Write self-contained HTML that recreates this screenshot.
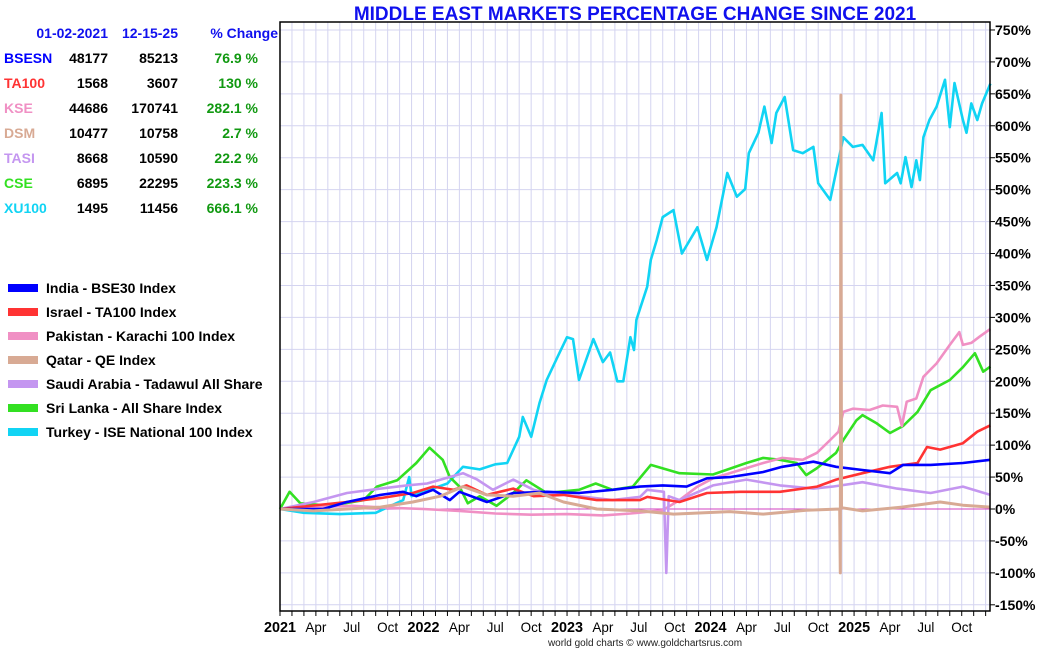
<!DOCTYPE html>
<html><head><meta charset="utf-8">
<style>
body{margin:0;background:#fff;width:1050px;height:650px;overflow:hidden;font-family:"Liberation Sans",sans-serif}
svg text{font-family:"Liberation Sans",sans-serif}
</style></head>
<body>
<svg id="chart" width="1050" height="650" xmlns="http://www.w3.org/2000/svg">
<text x="635" y="20" text-anchor="middle" font-size="19" font-weight="bold" fill="#1010ee">MIDDLE EAST MARKETS PERCENTAGE CHANGE SINCE 2021</text>
<g id="grid"></g>
<g id="series"></g>
<rect x="280" y="22" width="710" height="589" fill="none" stroke="#000" stroke-width="1.5"/>
<g id="axes"></g>
<g id="table"></g>
<g id="legend"></g>
<text x="645" y="646" text-anchor="middle" font-size="10" fill="#222">world gold charts © www.goldchartsrus.com</text>
</svg>
<script>
const yTicks=[750,700,650,600,550,500,450,400,350,300,250,200,150,100,50,0,-50,-100,-150];
const xLabels=["2021","Apr","Jul","Oct","2022","Apr","Jul","Oct","2023","Apr","Jul","Oct","2024","Apr","Jul","Oct","2025","Apr","Jul","Oct"];
const tableNames=["BSESN","TA100","KSE","DSM","TASI","CSE","XU100"];
const tableStart=["48177","1568","44686","10477","8668","6895","1495"];
const tableEnd=["85213","3607","170741","10758","10590","22295","11456"];
const tableChange=["76.9 %","130 %","282.1 %","2.7 %","22.2 %","223.3 %","666.1 %"];
const legendNames=["India - BSE30 Index","Israel - TA100 Index","Pakistan - Karachi 100 Index","Qatar - QE Index","Saudi Arabia - Tadawul All Share","Sri Lanka - All Share Index","Turkey - ISE National 100 Index"];
const colors=["#0000ff","#ff3333","#f090c4","#d8aa94","#c496f0","#33e022","#11d4f4"];
// months since Jan 2021 and % change values
const tkM=[0,2,5,8,10.3,10.8,11,12.5,14,15.3,16.7,18,19,20,20.3,21,21.7,22.3,23.2,24,24.5,25,26.2,27,27.6,28.2,28.7,29.3,29.6,29.8,30.7,31,31.5,32,32.9,33.6,34.9,35.7,36.5,37.4,38.2,38.9,39.2,40,40.5,41.1,41.5,42.2,42.9,43.7,44.6,45,46,46.7,47.1,47.9,48.7,49.6,50.3,50.6,51.6,51.9,52.3,52.8,53.2,53.5,53.8,54.3,54.9,55.6,56,56.4,57.1,57.4,57.8,58.3,58.7,59.4];
const tkV=[0,-6,-8,-6,14,50,20,30,40,66,62,70,72,113,144,113,166,202,238,269,266,202,266,230,245,200,200,269,249,296,348,390,421,457,468,400,441,390,441,526,489,501,557,589,630,573,620,645,562,557,567,510,484,546,582,567,570,546,620,510,526,510,551,504,546,515,582,609,630,672,598,667,609,589,635,609,635,666];
const lkM=[0,0.8,1.7,4.2,7,8.1,9.8,11.4,12.5,13.6,14.2,15,15.7,16.7,18.1,19.5,20.6,22.3,25,26.4,27.8,29.5,31,33.4,36.2,39,40.4,41.8,43.2,44,44.9,46.5,47.1,48.2,48.7,49.9,51,52.1,53.3,54.4,56,57.1,58.1,58.8,59.4];
const lkV=[0,27,9,5,14,35,45,72,96,77,50,35,9,20,5,25,45,25,30,40,30,35,69,56,54,72,80,77,72,53,64,88,108,139,147,134,119,130,152,186,202,222,244,215,223];
const pkM=[0,3,6,9,12,15,18,21,24,27,29.3,32,33.4,34.9,36.2,37.6,39,40.4,42,43.7,44.9,46,46.7,47.1,47.9,49.3,50.4,51.6,52,52.4,53.2,53.8,54.9,56,56.8,57.1,57.8,58.5,59.4];
const pkV=[0,3,5,2,0,-3,-7,-9,-8,-10,-7,-2,14,35,48,56,64,72,80,77,88,108,121,152,157,155,162,160,130,168,173,207,228,257,277,257,260,270,282];
const inM=[0,3.6,5.6,8.4,10.3,11.4,12.8,14.2,15,17.3,19.5,22.3,25,27.8,30.1,32,34,35.7,37.6,40.4,42,44.6,46.5,48.7,51,52.1,54.4,57.1,59.4];
const inV=[0,0,11,22,27,20,30,14,27,11,25,27,25,30,35,37,35,48,50,58,66,74,66,61,56,69,69,72,77];
const ilM=[0,5.6,8.4,11.1,12.8,14.5,15.6,17.3,19.5,21.2,23.7,26.5,30.1,30.7,33.4,35.7,38.5,41.8,44.9,46.5,48.7,51,53.3,54.1,55.2,57.1,58.3,59.4];
const ilV=[0,11,17,25,35,30,37,22,32,20,22,14,14,19,11,25,27,27,35,46,56,66,72,97,93,103,121,131];
const saM=[0,2.8,5.6,8.4,10.6,12.3,15.3,16.5,17.8,19.5,21.2,22.3,25,27.8,30.1,30.7,32.1,32.3,32.5,33.4,36.2,39,41.8,44.6,46.2,48.7,51.6,54.4,57.1,59.4];
const saV=[0,11,25,32,37,40,56,46,30,46,30,25,20,14,19,30,27,-100,20,14,37,46,37,32,35,42,32,25,35,22];
const qaM=[0,2.8,8.4,11.1,13.4,15.3,17.3,19.5,21.7,23.7,26.5,30.1,32.9,37.6,40.4,44,46.8,46.85,46.9,46.95,48.7,52,55.2,57.1,59.4];
const qaV=[0,-3,3,11,20,35,22,20,25,11,0,-3,-8,-4,-8,-2,0,-100,648,2,-3,3,11,6,3];
const seriesM=[inM,ilM,pkM,qaM,saM,lkM,tkM];
const seriesV=[inV,ilV,pkV,qaV,saV,lkV,tkV];
const seriesNames=["india-bse30-line","israel-ta100-line","pakistan-kse-line","qatar-qe-line","saudi-tasi-line","srilanka-cse-line","turkey-xu100-line"];

const NS="http://www.w3.org/2000/svg";
const L=280,R=990,T=22,B=611;
function xs(m){return L+m*11.96;}
function ys(v){return 509-v*0.6387;}
function mk(tag,attrs,parent){const e=document.createElementNS(NS,tag);for(const k in attrs)e.setAttribute(k,attrs[k]);parent.appendChild(e);return e;}
const grid=document.getElementById('grid'),axes=document.getElementById('axes');
for(let m=1;m<60;m++){const g=mk('line',{x1:xs(m),x2:xs(m),y1:T,y2:B,stroke:'#d4d4f0','stroke-width':1},grid);

}
for(const v of yTicks){const g=mk('line',{x1:L,x2:R,y1:ys(v),y2:ys(v),stroke:'#d4d4f0','stroke-width':1},grid);


const tk=mk('line',{x1:R,x2:R+5,y1:ys(v),y2:ys(v),stroke:'#000'},axes);


const t=mk('text',{x:R+5,y:ys(v)+5,'font-size':14,'font-weight':'bold',fill:'#000'},axes);t.textContent=v+'%';

}
const zl=mk('line',{x1:L,x2:R,y1:ys(0),y2:ys(0),stroke:'#d040c0','stroke-width':1},grid);


for(let m=0;m<60;m++){const tk=mk('line',{x1:xs(m),x2:xs(m),y1:B,y2:B+5,stroke:'#000'},axes);

}
xLabels.forEach((s,i)=>{const yr=i%4===0;
const t=mk('text',{x:xs(i*3),y:632,'text-anchor':'middle','font-size':yr?15:14,'font-weight':yr?'bold':'normal',fill:'#000',textLength:yr?32:(s==='Jul'?17:21),lengthAdjust:'spacingAndGlyphs'},axes);t.textContent=s;

});
const sg=document.getElementById('series');
const order=[6,5,2,4,1,0,3];
order.forEach(i=>{const pts=seriesM[i].map((m,j)=>xs(m).toFixed(1)+','+ys(seriesV[i][j]).toFixed(1)).join(' ');
const p=mk('polyline',{points:pts,fill:'none',stroke:colors[i],'stroke-width':i===3?3:2.6,'stroke-linejoin':'round'},sg);

});
const tb=document.getElementById('table');
[['01-02-2021',108],['12-15-25',178],['% Change',278]].forEach(([s,x])=>{const t=mk('text',{x:x,y:38,'text-anchor':'end','font-size':14,'font-weight':'bold',fill:'#1010ee'},tb);t.textContent=s;

});
const tColors=["#0000ff","#ff3333","#f090c4","#d8aa94","#c496f0","#33e022","#11d4f4"];
tableNames.forEach((n,i)=>{const y=63+i*25;
const a=mk('text',{x:4,y:y,'font-size':14,'font-weight':'bold',fill:tColors[i]},tb);a.textContent=n;


const b=mk('text',{x:108,y:y,'text-anchor':'end','font-size':14,'font-weight':'bold',fill:'#000'},tb);b.textContent=tableStart[i];


const c=mk('text',{x:178,y:y,'text-anchor':'end','font-size':14,'font-weight':'bold',fill:'#000'},tb);c.textContent=tableEnd[i];


const d=mk('text',{x:258,y:y,'text-anchor':'end','font-size':14,'font-weight':'bold',fill:'#119911'},tb);d.textContent=tableChange[i];

});
const lg=document.getElementById('legend');
legendNames.forEach((n,i)=>{const y=288+i*24;
const r=mk('rect',{x:8,y:y-4,width:30,height:8,fill:colors[i]},lg);


const t=mk('text',{x:46,y:y+5,'font-size':14,'font-weight':'bold',fill:'#000'},lg);t.textContent=n;

});
</script>
</body></html>
